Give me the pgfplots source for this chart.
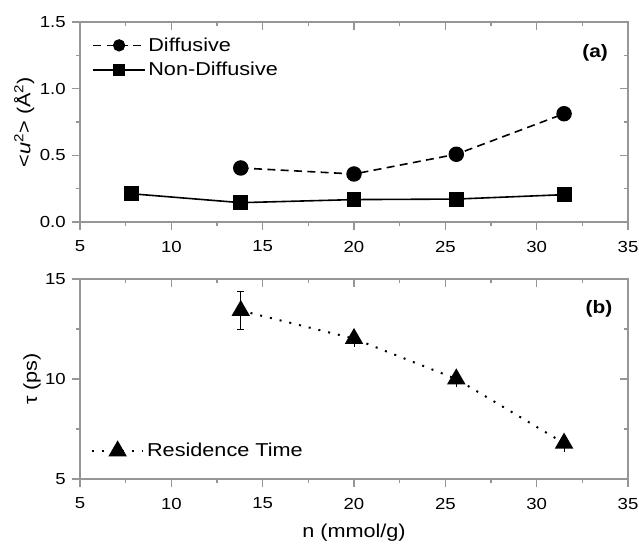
\documentclass[border=0pt]{standalone}
\usepackage{pgfplots}
\pgfplotsset{compat=1.18}
\usepackage{fontspec}
\setmainfont{Liberation Sans}[FakeStretch=1.16]
\definecolor{axgray}{RGB}{150,150,150}
\pgfplotsset{
  base/.style={
    width=411pt, height=150pt, scale only axis,
    xmin=5, xmax=35, xtick={5,10,...,35}, minor x tick num=1,
    axis line style={axgray, line width=0.8pt},
    every tick/.style={axgray, line width=0.8pt},
    major tick length=6pt, minor tick length=3pt,
    tick label style={font=\fontsize{12}{14}\selectfont, inner sep=0pt},
    xticklabel style={anchor=north}, yticklabel style={anchor=east},
    xticklabel shift=8pt, yticklabel shift=4.5pt,
    /pgf/number format/assume math mode=true,
  },
  main/.style={base, xtick pos=bottom, ytick pos=left, tick align=outside},
  over/.style={base, xtick pos=top, ytick pos=right, tick align=inside,
    xticklabels={}, yticklabels={}},
  leg/.style={legend image code/.code={
      \draw[mark repeat=2,mark phase=2,mark size=4pt] plot coordinates {(0cm,0cm) (0.68cm,0cm) (1.36cm,0cm)};}},
  legt/.style={legend image code/.code={
      \draw[mark repeat=2,mark phase=2,mark size=6.5pt] plot coordinates {(0cm,0cm) (0.68cm,0cm) (1.36cm,0cm)};}},
}
\begin{document}
\begin{tikzpicture}
\path[use as bounding box] (-60pt,-242.25pt) rectangle (419.25pt,166.5pt);
% ---------- top panel ----------
\begin{axis}[main, at={(0pt,0pt)}, anchor=south west,
  ymin=0, ymax=1.5, ytick={0,0.5,1.0,1.5}, minor y tick num=1,
  yticklabel style={/pgf/number format/fixed, /pgf/number format/fixed zerofill, /pgf/number format/precision=1},
  every axis y label/.style={at={(axis description cs:-0.102,0.5)}, rotate=90, anchor=center, font=\fontsize{14}{16}\selectfont},
  ylabel={{<}\textit{u}\textsuperscript{2}{>} (Å\textsuperscript{2})},
  legend style={draw=none, fill=none, at={(axis description cs:0.015,0.95)}, anchor=north west,
    font=\fontsize{14}{16}\selectfont, row sep=3pt, legend cell align=left},
]
\addplot[leg, black, line width=1.2pt, dash pattern=on 6pt off 4pt, mark=*, mark size=5.2pt, mark options={solid}]
  coordinates {(13.8,0.405) (20.0,0.36) (25.6,0.508) (31.5,0.812)};
\addlegendentry{Diffusive}
\addplot[leg, black, line width=1.2pt, mark=square*, mark size=5pt]
  coordinates {(7.8,0.212) (13.8,0.145) (20.0,0.168) (25.6,0.172) (31.5,0.205)};
\addlegendentry{Non-Diffusive}
\node[font=\bfseries\fontsize{13.5}{15}\selectfont] at (axis description cs:0.94,0.845) {(a)};
\end{axis}
\begin{axis}[over, at={(0pt,0pt)}, anchor=south west,
  ymin=0, ymax=1.5, ytick={0,0.5,1.0,1.5}, minor y tick num=1]
\end{axis}
% ---------- bottom panel ----------
\begin{axis}[main, at={(0pt,-192.75pt)}, anchor=south west,
  ymin=5, ymax=15, ytick={5,10,15}, minor y tick num=1,
  every axis y label/.style={at={(axis description cs:-0.0876,0.5)}, rotate=90, anchor=center, font=\fontsize{14}{16}\selectfont},
  every axis x label/.style={at={(axis description cs:0.5,-0.27)}, anchor=center, font=\fontsize{14}{16}\selectfont},
  ylabel={τ (ps)}, xlabel={n (mmol/g)},
  legend style={draw=none, fill=none, at={(axis description cs:0.012,0.14)}, anchor=west,
    font=\fontsize{14}{16}\selectfont, legend cell align=left},
]
\addplot[forget plot, draw=none, mark=none,
  error bars/.cd, y dir=both, y explicit, error bar style={black, line width=0.5pt, solid},
  error mark options={rotate=90, mark size=2.6pt, black, line width=0.5pt}]
  coordinates {(13.8,13.42) +- (0,0.96)};
\addplot[legt, black, line width=1.5pt, dash pattern=on 1.5pt off 6pt, mark=triangle*, mark size=6.5pt, mark options={solid},
  error bars/.cd, y dir=both, y explicit, error mark=none, error bar style={black, line width=0.5pt, solid}]
  coordinates {(13.8,13.42) +- (0,0.0) (20.0,12.02) +- (0,0.42) (25.6,10.0) +- (0,0.42) (31.5,6.79) +- (0,0.42)};
\addlegendentry{Residence Time}
\node[font=\bfseries\fontsize{13.5}{15}\selectfont] at (axis description cs:0.947,0.85) {(b)};
\end{axis}
\begin{axis}[over, at={(0pt,-192.75pt)}, anchor=south west,
  ymin=5, ymax=15, ytick={5,10,15}, minor y tick num=1]
\end{axis}
\end{tikzpicture}
\end{document}
